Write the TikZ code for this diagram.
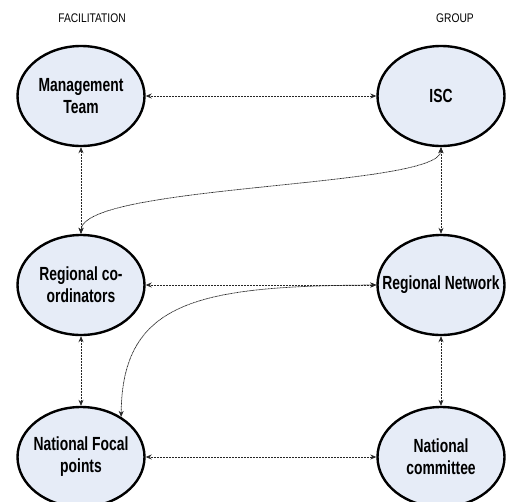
\documentclass[tikz,border=0pt]{standalone}
\usepackage{fontspec}
\setmainfont{Liberation Sans}
\newfontfamily\narrowbold[FakeStretch=0.73]{Liberation Sans Bold}
\newfontfamily\narrowreg[FakeStretch=0.82]{Liberation Sans}
\usetikzlibrary{shapes.geometric,arrows.meta}
\definecolor{blobfill}{RGB}{230,236,247}
\tikzset{
  blob/.style={ellipse, draw=black, line width=2.4pt, fill=blobfill,
    minimum width=127pt, minimum height=100pt, inner sep=0pt},
  txt/.style={align=center, font=\narrowbold\fontsize{19}{22}\selectfont},
  heading/.style={font=\narrowreg\fontsize{12.5}{15}\selectfont},
  link/.style={{Stealth[length=6pt,width=5pt]}-{Stealth[length=6pt,width=5pt]},
    line width=0.7pt, dash pattern=on 1pt off 0.5pt, draw=black!85}
}
\begin{document}
\begin{tikzpicture}[x=1pt,y=-1pt]
  \clip (0,0) rectangle (506,501);
  \fill[white] (0,0) rectangle (506,501);

  % column headings
  \node[heading] (hfac) at (92,18) {FACILITATION};
  \node[heading] (hgrp) at (455,18) {GROUP};

  % facilitation column
  \node[blob, label={[txt]center:Management\\Team}] (mt) at (81,96) {};
  \node[blob, label={[txt]center:Regional co-\\ordinators}] (rc) at (81,285) {};
  \node[blob, label={[txt]center:National Focal\\points}] (nfp) at (81,457) {};

  % group column
  \node[blob, label={[txt]center:ISC}] (isc) at (441,96) {};
  \node[blob, label={[txt]center:Regional Network}] (rn) at (441,285) {};
  \node[blob, label={[txt]center:National\\committee}] (nc) at (441,457) {};

  % horizontal links
  \draw[link] (mt) -- (isc);
  \draw[link] (rc) -- (rn);
  \draw[link] (nfp) -- (nc);

  % vertical links
  \draw[link] (mt) -- (rc);
  \draw[link] (rc) -- (nfp);
  \draw[link] (isc) -- (rn);
  \draw[link] (rn) -- (nc);

  % cross links
  \draw[link] (isc.south) .. controls (440,188) and (82,184) .. (rc.north);
  \draw[link] (nfp.45) .. controls (122,300) and (200,286) .. (rn.west);
\end{tikzpicture}
\end{document}
